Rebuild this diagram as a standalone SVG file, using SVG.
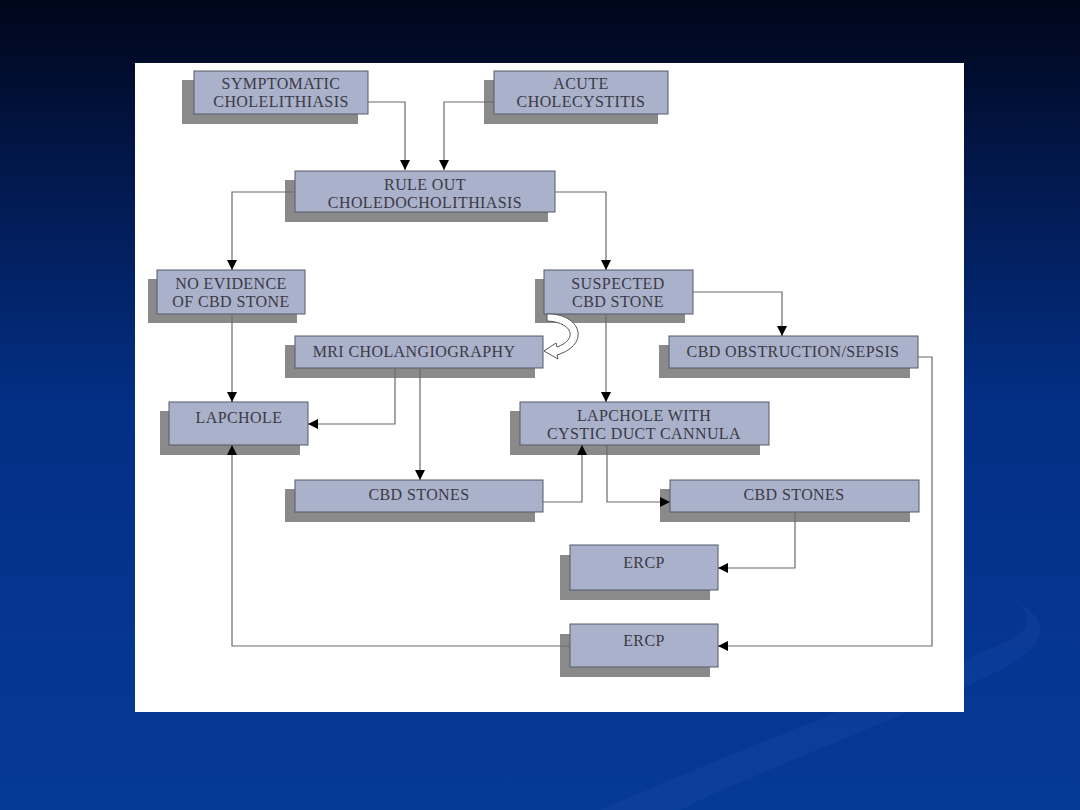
<svg xmlns="http://www.w3.org/2000/svg" width="1080" height="810" viewBox="0 0 1080 810">
<defs>
<linearGradient id="bg" x1="0" y1="0" x2="0" y2="1">
<stop offset="0" stop-color="#000519"/>
<stop offset="0.2" stop-color="#02174a"/>
<stop offset="0.5" stop-color="#032f85"/>
<stop offset="1" stop-color="#063a98"/>
</linearGradient>
<marker id="ah" viewBox="0 0 10 10" refX="10" refY="5" markerWidth="10" markerHeight="10" markerUnits="userSpaceOnUse" orient="auto">
<path d="M0,0 L10,5 L0,10 Z" fill="#000"/>
</marker>
<style>
.sh{fill:#8a8a8a}
.bx{fill:#aab1cb;stroke:#555a66;stroke-width:1}
.t{font-family:"Liberation Serif","Times New Roman",serif;font-size:16px;letter-spacing:0.4px;fill:#3a3a44;text-anchor:middle}
.c{fill:none;stroke:#6a6a6a;stroke-width:1.2;marker-end:url(#ah)}
</style>
</defs>
<rect x="0" y="0" width="1080" height="810" fill="url(#bg)"/>
<path d="M600,810 C760,740 900,690 1010,640 C1040,625 1030,600 990,590 C1050,610 1060,640 1000,670 C900,720 760,770 680,810 Z" fill="#1a4aa8" opacity="0.3"/>
<rect x="135" y="63" width="829" height="649" fill="#ffffff"/>

<g id="n-symptomatic">
<rect class="sh" x="182" y="80" width="176" height="44"/>
<rect class="bx" x="194" y="71" width="174" height="43"/>
<text class="t" x="281" y="89">SYMPTOMATIC</text>
<text class="t" x="281" y="107">CHOLELITHIASIS</text>
</g>
<g id="n-acute">
<rect class="sh" x="484" y="80" width="174" height="44"/>
<rect class="bx" x="494" y="71" width="174" height="43"/>
<text class="t" x="581" y="89">ACUTE</text>
<text class="t" x="581" y="107">CHOLECYSTITIS</text>
</g>
<g id="n-ruleout">
<rect class="sh" x="285" y="180" width="263" height="42"/>
<rect class="bx" x="295" y="171" width="260" height="41"/>
<text class="t" x="425" y="190">RULE OUT</text>
<text class="t" x="425" y="208">CHOLEDOCHOLITHIASIS</text>
</g>
<g id="n-noevidence">
<rect class="sh" x="148" y="279" width="149" height="44"/>
<rect class="bx" x="157" y="270" width="148" height="44"/>
<text class="t" x="231" y="289">NO EVIDENCE</text>
<text class="t" x="231" y="307">OF CBD STONE</text>
</g>
<g id="n-suspected">
<rect class="sh" x="535" y="279" width="150" height="44"/>
<rect class="bx" x="544" y="270" width="149" height="44"/>
<text class="t" x="618" y="289">SUSPECTED</text>
<text class="t" x="618" y="307">CBD STONE</text>
</g>
<g id="n-mri">
<rect class="sh" x="285" y="345" width="250" height="33"/>
<rect class="bx" x="295" y="336" width="248" height="32"/>
<text class="t" x="414" y="357">MRI CHOLANGIOGRAPHY</text>
</g>
<g id="n-obstruction">
<rect class="sh" x="659" y="345" width="251" height="33"/>
<rect class="bx" x="669" y="336" width="249" height="32"/>
<text class="t" x="793" y="357">CBD OBSTRUCTION/SEPSIS</text>
</g>
<g id="n-lapchole">
<rect class="sh" x="160" y="411" width="140" height="44"/>
<rect class="bx" x="169" y="402" width="139" height="43"/>
<text class="t" x="239" y="423">LAPCHOLE</text>
</g>
<g id="n-lapchole-cannula">
<rect class="sh" x="510" y="411" width="250" height="44"/>
<rect class="bx" x="520" y="402" width="249" height="43"/>
<text class="t" x="644" y="421">LAPCHOLE WITH</text>
<text class="t" x="644" y="439">CYSTIC DUCT CANNULA</text>
</g>
<g id="n-cbdstones-left">
<rect class="sh" x="285" y="489" width="250" height="33"/>
<rect class="bx" x="295" y="480" width="248" height="32"/>
<text class="t" x="419" y="500">CBD STONES</text>
</g>
<g id="n-cbdstones-right">
<rect class="sh" x="660" y="489" width="250" height="33"/>
<rect class="bx" x="670" y="480" width="249" height="32"/>
<text class="t" x="794" y="500">CBD STONES</text>
</g>
<g id="n-ercp-1">
<rect class="sh" x="560" y="555" width="150" height="45"/>
<rect class="bx" x="570" y="545" width="148" height="45"/>
<text class="t" x="644" y="568">ERCP</text>
</g>
<g id="n-ercp-2">
<rect class="sh" x="560" y="634" width="150" height="43"/>
<rect class="bx" x="570" y="624" width="148" height="43"/>
<text class="t" x="644" y="646">ERCP</text>
</g>

<g id="connectors">
<path class="c" d="M368,102 H405 V170"/>
<path class="c" d="M494,102 H444 V170"/>
<path class="c" d="M295,192 H232 V270"/>
<path class="c" d="M555,192 H606 V270"/>
<path class="c" d="M693,292 H782 V336"/>
<path class="c" d="M606,314 V402"/>
<path class="c" d="M232,314 V402"/>
<path class="c" d="M395,368 V424 H308"/>
<path class="c" d="M420,368 V480"/>
<path class="c" d="M543,502 H582 V445"/>
<path class="c" d="M607,445 V502 H670"/>
<path class="c" d="M795,512 V568 H718"/>
<path class="c" d="M918,357 H932 V646 H718"/>
<path class="c" d="M570,646 H232 V445"/>
<path d="M547,314 C580,313 592,344 557,355 L558,359 L544,351 L556,343 L557,347 C579,339 572,322 547,321 Z" fill="#ffffff" stroke="#555" stroke-width="1"/>
</g>
</svg>
